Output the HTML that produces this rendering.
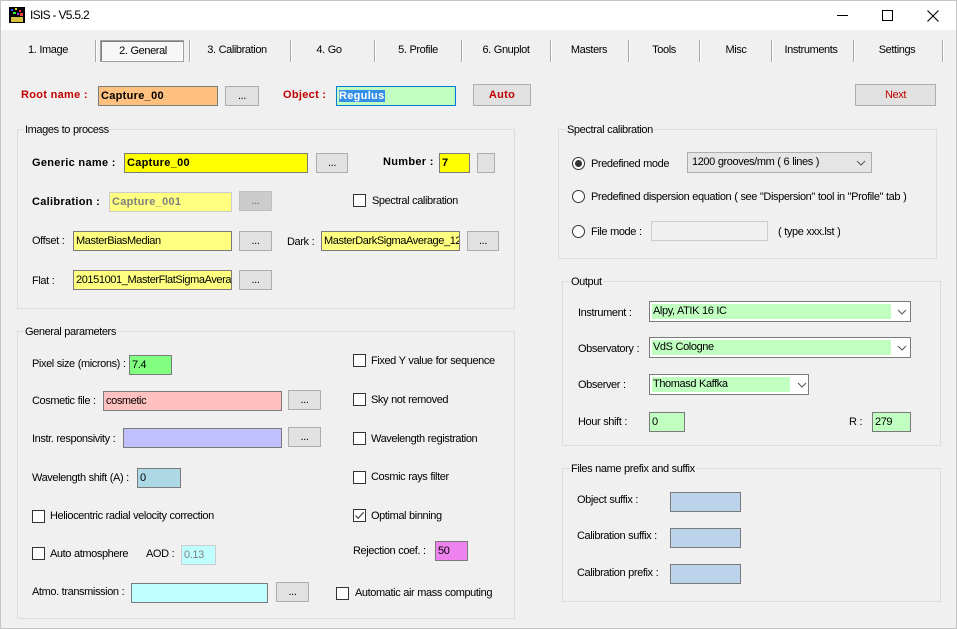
<!DOCTYPE html>
<html><head><meta charset="utf-8">
<style>
body{margin:0;width:957px;height:629px;overflow:hidden;background:#f0f0f0;font-family:"Liberation Sans",Arial,sans-serif;font-size:11px;position:relative;letter-spacing:-0.4px;word-spacing:0.3px;color:#000}
.l{position:absolute;white-space:nowrap;height:14px;line-height:14px}
.b{font-weight:bold;letter-spacing:0.3px;word-spacing:0}
.in{position:absolute;box-sizing:border-box;border:1px solid #7a7a7a;overflow:hidden;white-space:nowrap;padding-left:2px;height:20px;line-height:18px}
.btn{position:absolute;box-sizing:border-box;border:1px solid #adadad;background:#e1e1e1;text-align:center;height:20px;line-height:18px}
.cb{position:absolute;width:13px;height:13px;box-sizing:border-box;border:1px solid #333;background:#fff}
.rd{position:absolute;width:13px;height:13px;box-sizing:border-box;border:1px solid #333;border-radius:50%;background:#fff}
.grp{position:absolute;box-sizing:border-box;border:1px solid #dcdcdc}
.gt{position:absolute;background:#f0f0f0;padding:0 1px;white-space:nowrap;height:14px;line-height:14px}
.sep{position:absolute;top:40px;width:1px;height:22px;background:#a8a8a8;border-right:1px solid #fff}
.tab{position:absolute;top:43px;height:14px;line-height:14px;white-space:nowrap;transform:translateX(-50%)}
.red{color:#c00000}
.cmb{position:absolute;box-sizing:border-box;border:1px solid #7a7a7a;background:#fff;height:21px}
.cmb .f{position:absolute;left:2px;top:2px;bottom:2px;background:#c0ffc0;line-height:15px;padding-left:1px;white-space:nowrap}
.chev{position:absolute;width:10px;height:6px}
</style></head><body>
<!-- window border -->
<div style="position:absolute;left:0;top:0;width:957px;height:629px;box-sizing:border-box;border:1px solid #c4c4c4;pointer-events:none;z-index:5"></div>
<!-- title bar -->
<div style="position:absolute;left:0;top:0;width:957px;height:30px;background:#fff"></div>
<div style="position:absolute;left:9px;top:7px;width:16px;height:16px;background:#000">
  <div style="position:absolute;left:2px;top:2px;width:2px;height:2px;background:#3050ff"></div>
  <div style="position:absolute;left:6px;top:1px;width:2px;height:2px;background:#e0e020"></div>
  <div style="position:absolute;left:10px;top:3px;width:2px;height:2px;background:#ff3030"></div>
  <div style="position:absolute;left:4px;top:5px;width:3px;height:2px;background:#30ff30"></div>
  <div style="position:absolute;left:11px;top:6px;width:3px;height:3px;background:#ff4040"></div>
  <div style="position:absolute;left:8px;top:6px;width:2px;height:2px;background:#a040ff"></div>
  <div style="position:absolute;left:2px;top:10px;width:12px;height:5px;background:#d8c040"></div>
</div>
<div class="l" style="left:30px;top:8px;font-size:12px;letter-spacing:-0.7px;word-spacing:0">ISIS - V5.5.2</div>
<div style="position:absolute;left:837px;top:15px;width:11px;height:1px;background:#000"></div>
<div style="position:absolute;left:882px;top:10px;width:11px;height:11px;box-sizing:border-box;border:1px solid #000"></div>
<svg style="position:absolute;left:927px;top:10px" width="12" height="12"><path d="M0.5 0.5L11.5 11.5M11.5 0.5L0.5 11.5" stroke="#000" stroke-width="1.1"/></svg>

<!-- tabs -->
<div style="position:absolute;left:100px;top:40px;width:84px;height:22px;box-sizing:border-box;border:1px solid #a0a0a0;box-shadow:inset 1px 1px 0 #808080, inset -1px -1px 0 #fff;background:#f7f7f7"></div>
<div class="sep" style="left:95px"></div>
<div class="sep" style="left:189px"></div>
<div class="sep" style="left:290px"></div>
<div class="sep" style="left:374px"></div>
<div class="sep" style="left:461px"></div>
<div class="sep" style="left:550px"></div>
<div class="sep" style="left:628px"></div>
<div class="sep" style="left:699px"></div>
<div class="sep" style="left:771px"></div>
<div class="sep" style="left:853px"></div>
<div class="sep" style="left:942px"></div>
<div class="tab" style="left:48px">1. Image</div>
<div class="tab" style="left:143px;top:44px">2. General</div>
<div class="tab" style="left:237px">3. Calibration</div>
<div class="tab" style="left:329px">4. Go</div>
<div class="tab" style="left:418px">5. Profile</div>
<div class="tab" style="left:506px">6. Gnuplot</div>
<div class="tab" style="left:589px">Masters</div>
<div class="tab" style="left:664px">Tools</div>
<div class="tab" style="left:736px">Misc</div>
<div class="tab" style="left:811px">Instruments</div>
<div class="tab" style="left:897px">Settings</div>

<!-- root row -->
<div class="l b red" style="left:21px;top:88px">Root name :</div>
<div class="in b" style="left:98px;top:86px;width:120px;background:#ffc080;letter-spacing:0.3px">Capture_00</div>
<div class="btn" style="left:225px;top:86px;width:34px">...</div>
<div class="l b red" style="left:283px;top:88px">Object :</div>
<div class="in b" style="left:336px;top:86px;width:120px;background:#c0ffc0;border-color:#0078d7"><span style="background:#338fe8;color:#fff;letter-spacing:0.3px">Regulus</span></div>
<div class="btn b red" style="left:473px;top:84px;width:58px;height:22px;line-height:20px">Auto</div>
<div class="btn red" style="left:855px;top:84px;width:81px;height:22px;line-height:20px">Next</div>

<!-- Images to process -->
<div class="grp" style="left:17px;top:129px;width:498px;height:180px"></div>
<div class="gt" style="left:24px;top:123px">Images to process</div>
<div class="l b" style="left:32px;top:156px">Generic name :</div>
<div class="in b" style="left:124px;top:153px;width:184px;background:#ffff00;letter-spacing:0.3px">Capture_00</div>
<div class="btn" style="left:316px;top:153px;width:32px">...</div>
<div class="l b" style="left:383px;top:155px">Number :</div>
<div class="in b" style="left:439px;top:153px;width:31px;background:#ffff00">7</div>
<div class="btn" style="left:477px;top:153px;width:18px"></div>
<div class="l b" style="left:32px;top:195px">Calibration :</div>
<div class="in b" style="left:109px;top:192px;width:123px;background:#ffff80;border-color:#cccccc;color:#808080;letter-spacing:0.3px">Capture_001</div>
<div class="btn" style="left:239px;top:191px;width:33px;background:#cccccc;border-color:#bfbfbf;color:#6d6d6d">...</div>
<div class="cb" style="left:353px;top:194px"></div>
<div class="l" style="left:372px;top:194px">Spectral calibration</div>
<div class="l" style="left:32px;top:234px">Offset :</div>
<div class="in" style="left:73px;top:231px;width:159px;background:#ffff80">MasterBiasMedian</div>
<div class="btn" style="left:239px;top:231px;width:33px">...</div>
<div class="l" style="left:287px;top:235px">Dark :</div>
<div class="in" style="left:321px;top:231px;width:139px;background:#ffff80">MasterDarkSigmaAverage_120</div>
<div class="btn" style="left:467px;top:231px;width:32px">...</div>
<div class="l" style="left:32px;top:274px">Flat :</div>
<div class="in" style="left:73px;top:270px;width:159px;background:#ffff80">20151001_MasterFlatSigmaAverage</div>
<div class="btn" style="left:239px;top:270px;width:33px">...</div>

<!-- General parameters -->
<div class="grp" style="left:17px;top:331px;width:498px;height:288px"></div>
<div class="gt" style="left:24px;top:325px">General parameters</div>
<div class="l" style="left:32px;top:357px">Pixel size (microns) :</div>
<div class="in" style="left:129px;top:355px;width:43px;background:#80ff80">7.4</div>
<div class="l" style="left:32px;top:394px">Cosmetic file :</div>
<div class="in" style="left:103px;top:391px;width:179px;background:#ffc0c0">cosmetic</div>
<div class="btn" style="left:288px;top:390px;width:33px">...</div>
<div class="l" style="left:32px;top:432px">Instr. responsivity :</div>
<div class="in" style="left:123px;top:428px;width:159px;background:#c0c0ff"></div>
<div class="btn" style="left:288px;top:427px;width:33px">...</div>
<div class="l" style="left:32px;top:471px">Wavelength shift (A) :</div>
<div class="in" style="left:137px;top:468px;width:44px;background:#add8e6">0</div>
<div class="cb" style="left:32px;top:510px"></div>
<div class="l" style="left:50px;top:509px">Heliocentric radial velocity correction</div>
<div class="cb" style="left:32px;top:547px"></div>
<div class="l" style="left:50px;top:547px">Auto atmosphere</div>
<div class="l" style="left:146px;top:547px">AOD :</div>
<div class="in" style="left:181px;top:545px;width:35px;background:#c0ffff;border-color:#cccccc;color:#808080">0.13</div>
<div class="l" style="left:32px;top:585px">Atmo. transmission :</div>
<div class="in" style="left:131px;top:583px;width:137px;background:#c0ffff"></div>
<div class="btn" style="left:276px;top:582px;width:33px">...</div>

<div class="cb" style="left:353px;top:354px"></div>
<div class="l" style="left:371px;top:354px">Fixed Y value for sequence</div>
<div class="cb" style="left:353px;top:393px"></div>
<div class="l" style="left:371px;top:393px">Sky not removed</div>
<div class="cb" style="left:353px;top:432px"></div>
<div class="l" style="left:371px;top:432px">Wavelength registration</div>
<div class="cb" style="left:353px;top:471px"></div>
<div class="l" style="left:371px;top:470px">Cosmic rays filter</div>
<div class="cb" style="left:353px;top:509px"><svg width="11" height="11" style="position:absolute;left:0;top:0"><path d="M1.5 5.5L4.2 8.3L9.7 2.2" stroke="#444" stroke-width="1.2" fill="none"/></svg></div>
<div class="l" style="left:371px;top:509px">Optimal binning</div>
<div class="l" style="left:353px;top:544px">Rejection coef. :</div>
<div class="in" style="left:435px;top:541px;width:33px;background:#ee82ee">50</div>
<div class="cb" style="left:336px;top:587px"></div>
<div class="l" style="left:355px;top:586px">Automatic air mass computing</div>

<!-- Spectral calibration -->
<div class="grp" style="left:558px;top:129px;width:379px;height:130px"></div>
<div class="gt" style="left:566px;top:123px">Spectral calibration</div>
<div class="rd" style="left:572px;top:157px"><div style="position:absolute;left:2px;top:2px;width:7px;height:7px;border-radius:50%;background:#333"></div></div>
<div class="l" style="left:591px;top:157px">Predefined mode</div>
<div style="position:absolute;left:687px;top:152px;width:185px;height:21px;box-sizing:border-box;border:1px solid #adadad;background:#e5e5e5;line-height:19px;padding-left:4px;white-space:nowrap">1200 grooves/mm ( 6 lines )</div>
<svg class="chev" style="left:856px;top:160px" width="10" height="6"><path d="M1 1L5 5L9 1" stroke="#555" fill="none"/></svg>
<div class="rd" style="left:572px;top:190px"></div>
<div class="l" style="left:591px;top:190px">Predefined dispersion equation ( see "Dispersion" tool in "Profile" tab )</div>
<div class="rd" style="left:572px;top:225px"></div>
<div class="l" style="left:591px;top:225px">File mode :</div>
<div class="in" style="left:651px;top:221px;width:117px;background:#f0f0f0;border-color:#cccccc"></div>
<div class="l" style="left:778px;top:225px">( type xxx.lst )</div>

<!-- Output -->
<div class="grp" style="left:562px;top:281px;width:379px;height:165px"></div>
<div class="gt" style="left:570px;top:275px">Output</div>
<div class="l" style="left:578px;top:306px">Instrument :</div>
<div class="cmb" style="left:649px;top:301px;width:262px"><div class="f" style="width:238px">Alpy, ATIK 16 IC</div></div>
<svg class="chev" style="left:897px;top:309px" width="10" height="6"><path d="M1 1L5 5L9 1" stroke="#555" fill="none"/></svg>
<div class="l" style="left:578px;top:342px">Observatory :</div>
<div class="cmb" style="left:649px;top:337px;width:262px"><div class="f" style="width:238px">VdS Cologne</div></div>
<svg class="chev" style="left:897px;top:345px" width="10" height="6"><path d="M1 1L5 5L9 1" stroke="#555" fill="none"/></svg>
<div class="l" style="left:578px;top:378px">Observer :</div>
<div class="cmb" style="left:649px;top:374px;width:160px"><div class="f" style="width:137px">Thomasd Kaffka</div></div>
<svg class="chev" style="left:797px;top:382px" width="10" height="6"><path d="M1 1L5 5L9 1" stroke="#555" fill="none"/></svg>
<div class="l" style="left:578px;top:415px">Hour shift :</div>
<div class="in" style="left:649px;top:412px;width:36px;background:#c0ffc0">0</div>
<div class="l" style="left:849px;top:415px">R :</div>
<div class="in" style="left:872px;top:412px;width:39px;background:#c0ffc0">279</div>

<!-- Files name prefix and suffix -->
<div class="grp" style="left:562px;top:468px;width:379px;height:134px"></div>
<div class="gt" style="left:570px;top:462px">Files name prefix and suffix</div>
<div class="l" style="left:577px;top:493px">Object suffix :</div>
<div class="in" style="left:670px;top:492px;width:71px;background:#bcd3ec"></div>
<div class="l" style="left:577px;top:529px">Calibration suffix :</div>
<div class="in" style="left:670px;top:528px;width:71px;background:#bcd3ec"></div>
<div class="l" style="left:577px;top:566px">Calibration prefix :</div>
<div class="in" style="left:670px;top:564px;width:71px;background:#bcd3ec"></div>
</body></html>
